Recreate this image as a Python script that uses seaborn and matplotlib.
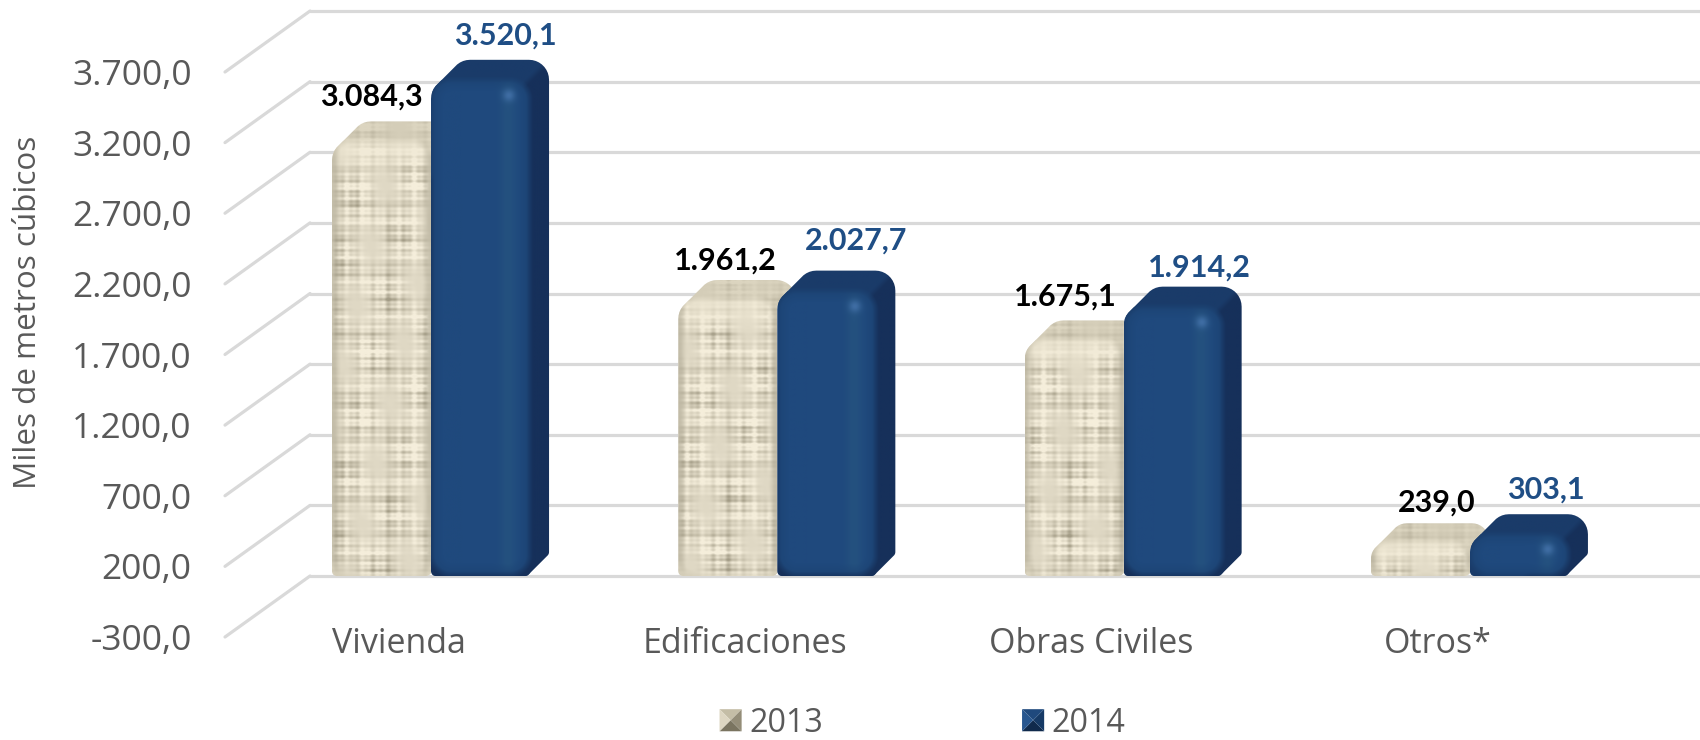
import numpy as np
import pandas as pd
import matplotlib
matplotlib.use("Agg")
import matplotlib.pyplot as plt
import seaborn as sns
from matplotlib.colors import to_rgb
from matplotlib.legend_handler import HandlerBase
from matplotlib.patches import Patch, Polygon
from matplotlib.transforms import IdentityTransform, ScaledTranslation

categorias = ["Vivienda", "Edificaciones", "Obras Civiles", "Otros*"]
valores_2013 = [3084.3, 1961.2, 1675.1, 239.0]
valores_2014 = [3520.1, 2027.7, 1914.2, 303.1]
etiquetas_2013 = ["3.084,3", "1.961,2", "1.675,1", "239,0"]
etiquetas_2014 = ["3.520,1", "2.027,7", "1.914,2", "303,1"]
ticks_y = [-300, 200, 700, 1200, 1700, 2200, 2700, 3200, 3700]
ticks_y_txt = ["-300,0", "200,0", "700,0", "1.200,0", "1.700,0", "2.200,0", "2.700,0", "3.200,0", "3.700,0"]

W, H = 1700, 740
GRIS = "#595959"
REJILLA = "#d9d9d9"
AZUL_TXT = "#1f4e85"
PROF = 19  # bar depth in px
PARED_X, PARED_Y = 85, 61  # offset from the front plane to the back wall

df = pd.DataFrame({
    "Categoria": categorias * 2,
    "Valor": valores_2013 + valores_2014,
    "Anio": ["2013"] * 4 + ["2014"] * 4,
})

sns.set_theme(style="white")
plt.rcParams["font.family"] = ["Open Sans", "DejaVu Sans"]

fig = plt.figure(figsize=(W / 100, H / 100), dpi=100)


def eje(left, right, top, bottom):
    return fig.add_axes([left / W, 1 - bottom / H, (right - left) / W, (bottom - top) / H])


# front plane holds the value axis, the bars stand a bit further back
ax = eje(225, 1698, 72, 637)
ax_b = eje(225, 1698, 53.4, 618.4)

for a in (ax, ax_b):
    a.set_ylim(-300, 3700)
    a.patch.set_alpha(0)
    sns.despine(ax=a, left=True, bottom=True, right=True, top=True)

ax.set_xlim(0, 1)
ax.set_xticks([])
ax.set_yticks(ticks_y)
ax.set_yticklabels(ticks_y_txt, fontsize=25.5, color=GRIS)
ax.tick_params(axis="y", length=0, pad=24)
ax.set_ylabel("Miles de metros cúbicos", fontsize=22.6, color=GRIS)
ax.yaxis.set_label_coords(-0.1235, 0.575)

# floor and wall lines
pared = ax.transData + ScaledTranslation(PARED_X / 100, PARED_Y / 100, fig.dpi_scale_trans)
for v in ticks_y:
    ax.plot([0, 1], [v, v], color=REJILLA, lw=2.3, transform=pared, clip_on=False, solid_capstyle="round")
    ax.plot([0, PARED_X / (1698 - 225)], [v, v + PARED_Y * 4000 / 565], color=REJILLA, lw=2.3, clip_on=False,
            solid_capstyle="round")

sns.barplot(data=df, x="Categoria", y="Valor", hue="Anio", palette=["#e6dfca", "#1f4a7e"],
            width=0.572, gap=0, legend=False, ax=ax_b)
ax_b.set_ylim(-300, 3700)
ax_b.set_xlim((225 - 431) / 346.3, (1698 - 431) / 346.3)
ax_b.set_yticks([])
ax_b.set_xlabel("")
ax_b.set_ylabel("")
ax_b.tick_params(axis="x", length=0, pad=6)
ax_b.set_xticks(range(4))
ax_b.set_xticklabels(categorias, fontsize=24.5, color=GRIS)
corr = ScaledTranslation(-32 / 100, 0, fig.dpi_scale_trans)
for t in ax_b.get_xticklabels():
    t.set_transform(t.get_transform() + corr)


def caja(x0, y0, x1, y1, r, rb):
    # rounded rectangle outline in px, top corners r, bottom corners rb
    pts = []
    for cx, cy, rad, a0 in [(x1 - rb, y0 + rb, rb, -90), (x1 - r, y1 - r, r, 0),
                            (x0 + r, y1 - r, r, 90), (x0 + rb, y0 + rb, rb, 180)]:
        for a in np.radians(np.linspace(a0, a0 + 90, 10)):
            pts.append((cx + rad * np.cos(a), cy + rad * np.sin(a)))
    return pts


def envolvente(pts):
    pts = sorted(set(pts))
    def giro(o, a, b):
        return (a[0] - o[0]) * (b[1] - o[1]) - (a[1] - o[1]) * (b[0] - o[0])
    abajo, arriba = [], []
    for p in pts:
        while len(abajo) > 1 and giro(abajo[-2], abajo[-1], p) <= 0:
            abajo.pop()
        abajo.append(p)
    for p in reversed(pts):
        while len(arriba) > 1 and giro(arriba[-2], arriba[-1], p) <= 0:
            arriba.pop()
        arriba.append(p)
    return abajo[:-1] + arriba[:-1]


def mezcla(a, b, t):
    t = np.clip(t, 0, 1)[..., None]
    return a * (1 - t) + b * t


def col(c):
    return np.array(to_rgb(c))


def sombreado(x0, y0, x1, y1, r, azul):
    xs = np.arange(x0, x1 + PROF + 1)
    ys = np.arange(y1 + PROF + 1, y0 - 1, -1)
    X, Y = np.meshgrid(xs, ys)
    plano = np.ones(X.shape + (3,))
    cx, cy = (x0 + x1) / 2, (y0 + y1) / 2
    qx = np.abs(X - cx) - ((x1 - x0) / 2 - r)
    qy = np.abs(Y - cy) - ((y1 - y0) / 2 - r)
    d = np.hypot(np.maximum(qx, 0), np.maximum(qy, 0)) + np.minimum(np.maximum(qx, qy), 0) - r
    dentro = np.clip(0.5 - d / 7, 0, 1)
    es_lado = np.clip(((X - x1) - (Y - y1)) / 8 + 0.5, 0, 1)
    if azul:
        img = plano * col("#1f497d")
        u = (X - x0) / (x1 - x0)
        img = mezcla(img, col("#24517f"), np.exp(-((u - 0.78) / 0.08) ** 2))
        img = mezcla(img, col("#1c4373"), np.clip(1 + d / 12, 0, 1) * 0.8)
        brillo = np.exp(-(((X - (x1 - 21)) / 6) ** 2 + ((Y - (y1 - 16)) / 6) ** 2))
        img = mezcla(img, col("#4472aa"), brillo * 0.85)
        fuera = mezcla(plano * col("#1a3b69"), plano * col("#16305a"), es_lado)
    else:
        # woven look: slow horizontal streaks broken up by patches
        filas = np.sin(Y * 0.53) + 0.8 * np.sin(Y * 1.27 + 1) + 0.7 * np.sin(Y * 0.19)
        cols = np.sin(X * 0.37 + 2) + 0.8 * np.sin(X * 0.83) + 0.6 * np.sin(X * 0.13 + 1)
        parches = 0.5 + 0.5 * np.sin(X * 0.09 + Y * 0.031) * np.sin(Y * 0.057 - X * 0.021)
        trama = np.clip(0.26 + 0.26 * filas * parches + 0.2 * cols * parches, 0, 1)
        img = mezcla(plano * col("#f5eedb"), plano * col("#a29b85"), trama)
        img = mezcla(img, col("#efe8d4"), np.clip(1 + (Y - y1) / 38, 0, 1) * 0.75)
        borde = np.clip(1 - (X - x0) / 9, 0, 1) + np.clip(1 - (x1 - X) / 9, 0, 1)
        img = mezcla(img, col("#a8a28e"), borde ** 1.5 * 0.8)
        fuera = mezcla(plano * col("#dcd5c0"), plano * col("#bfb8a3"), trama)
    return mezcla(fuera, img, dentro)


# turn each seaborn bar into a rounded box with depth
barras = [p for p in ax_b.patches if p.get_height() > 0]
ax_b.set_autoscale_on(False)
fig.canvas.draw()
for i, b in enumerate(barras):
    (x0, y0), (x1, y1) = ax_b.transData.transform([(b.get_x(), 0), (b.get_x() + b.get_width(), b.get_height())])
    r = min(20, (y1 - y0) * 0.5)
    rb = 5
    frente = caja(x0, y0, x1, y1, r, rb)
    atras = [(x + PROF, y + PROF) for x, y in caja(x0, y0, x1, y1, r, rb)]
    silueta = envolvente(frente + atras)
    clip = Polygon(silueta, closed=True, transform=IdentityTransform(), fc="none", ec="none")
    ax_b.add_patch(clip)
    b.set_clip_path(clip)
    b.set_zorder(2 + i)
    azul = i >= 4
    im = ax_b.imshow(sombreado(x0, y0, x1, y1, r, azul), extent=(x0, x1 + PROF, y0, y1 + PROF), aspect="auto",
                     transform=IdentityTransform(), zorder=2 + i, interpolation="bilinear")
    im.set_clip_path(clip)

ax_b.set_xlim((225 - 431) / 346.3, (1698 - 431) / 346.3)
ax_b.set_ylim(-300, 3700)

# value labels, nudged the way they sit in the chart
desp_2013 = [(-10, 25), (-2, 19), (-9, 24), (16, 21)]
desp_2014 = [(25, 24), (29, 30), (26, 19), (26, 25)]
for i, b in enumerate(barras):
    azul = i >= 4
    dx, dy = (desp_2014 if azul else desp_2013)[i % 4]
    txt = (etiquetas_2014 if azul else etiquetas_2013)[i % 4]
    ax_b.annotate(txt, (b.get_x() + b.get_width() / 2, b.get_height()),
                  xytext=(dx, dy + PROF), textcoords="offset pixels", ha="center", va="center",
                  fontsize=22, fontweight="bold", family=["Lato", "DejaVu Sans"],
                  color=AZUL_TXT if azul else "black", zorder=30, annotation_clip=False)


class LlaveBisel(HandlerBase):
    def create_artists(self, legend, orig, xd, yd, w, h, fs, trans):
        lado = h * 0.98
        x0, y0 = -xd + (w - lado) / 2, -yd + (h - lado) / 2
        c = (x0 + lado / 2, y0 + lado / 2)
        esq = [(x0, y0), (x0 + lado, y0), (x0 + lado, y0 + lado), (x0, y0 + lado)]
        out = []
        for k, tono in enumerate(orig.tonos):
            out.append(Polygon([esq[k], esq[(k + 1) % 4], c], closed=True, fc=tono, ec="none", transform=trans))
        return out


h13 = Patch(label="2013")
h13.tonos = ["#7a7460", "#948d78", "#c4bda6", "#ddd6c2"]
h14 = Patch(label="2014")
h14.tonos = ["#102a4c", "#163a66", "#1f497d", "#27568f"]
leg = fig.legend(handles=[h13, h14], handler_map={Patch: LlaveBisel()}, ncol=2, frameon=False,
                 loc="center", bbox_to_anchor=(922 / W, 1 - 723 / H), fontsize=23.2, labelcolor=GRIS,
                 columnspacing=6.15, handlelength=0.75, handletextpad=0.2, borderaxespad=0, borderpad=0)

fig.savefig("out.png", dpi=100, facecolor="white")
